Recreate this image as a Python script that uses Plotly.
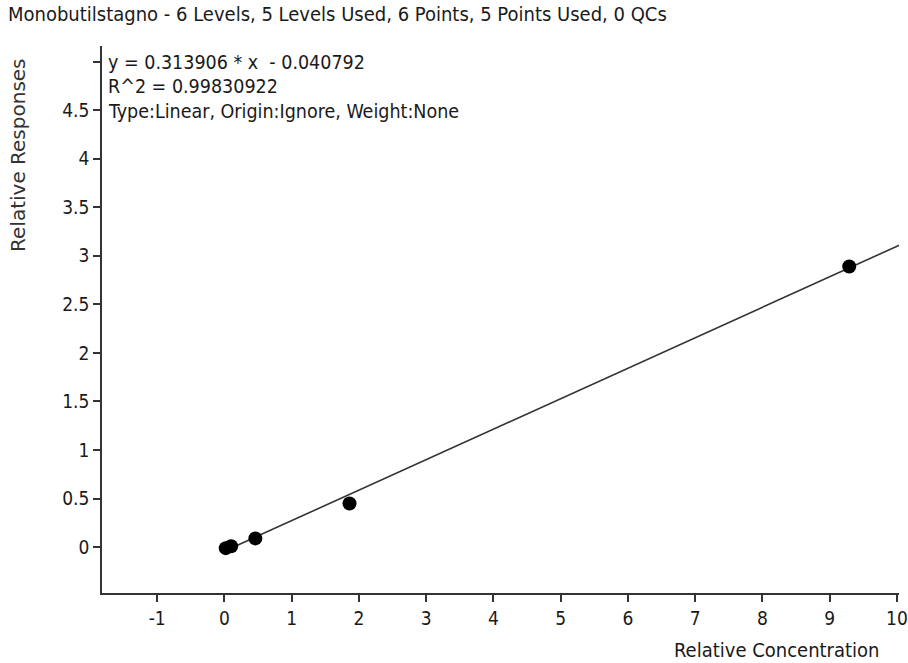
import plotly.graph_objects as go

# Calibration points (relative concentration vs relative response)
conc = [0.02, 0.10, 0.46, 1.86, 9.29]
resp = [-0.01, 0.01, 0.09, 0.45, 2.89]

# Fit parameters (from the equation shown)
slope = 0.313906
intercept = -0.040792
fit_x = [0.02, 10.2]

title_text = "Monobutilstagno - 6 Levels, 5 Levels Used, 6 Points, 5 Points Used, 0 QCs"
eq_lines = ["y = 0.313906 * x  - 0.040792", "R^2 = 0.99830922", "Type:Linear, Origin:Ignore, Weight:None"]

x_ticks = [-1, 0, 1, 2, 3, 4, 5, 6, 7, 8, 9, 10]
x_ticktext = ["-1", "0", "1", "2", "3", "4", "5", "6", "7", "8", "9", "10"]
y_ticks = [0, 0.5, 1, 1.5, 2, 2.5, 3, 3.5, 4, 4.5, 5]
y_ticktext = ["0", "0.5", "1", "1.5", "2", "2.5", "3", "3.5", "4", "4.5", ""]

NARROW = "Liberation Sans Narrow, Arial Narrow, DejaVu Sans Condensed, sans-serif"

fig = go.Figure()
fig.add_trace(go.Scatter(
    x=fit_x, y=[slope * v + intercept for v in fit_x], mode="lines",
    line=dict(color="#333333", width=1.6), hoverinfo="skip", showlegend=False))
fig.add_trace(go.Scatter(
    x=conc, y=resp, mode="markers",
    marker=dict(color="black", size=14), showlegend=False))

W, H = 908, 663
L, R, T, B = 102, 0, 46, 70
PW, PH = W - L - R, H - T - B

fig.update_layout(
    width=W, height=H,
    margin=dict(l=L, r=R, t=T, b=B),
    paper_bgcolor="white", plot_bgcolor="white",
    font=dict(family=NARROW, size=19, color="#1a1a1a"),
    xaxis=dict(range=[-1.82, 10.03], tickvals=x_ticks, ticktext=x_ticktext,
               showgrid=False, zeroline=False, ticklabeloverflow="allow",
               showline=True, linecolor="#333333", linewidth=1.5,
               ticks="outside", ticklen=7, tickcolor="#333333", tickwidth=1.5,
               tickfont=dict(family=NARROW, size=19)),
    yaxis=dict(range=[-0.472, 5.16], tickvals=y_ticks, ticktext=y_ticktext,
               showgrid=False, zeroline=False,
               showline=True, linecolor="#333333", linewidth=1.5,
               ticks="outside", ticklen=7, tickcolor="#333333", tickwidth=1.5,
               tickfont=dict(family=NARROW, size=19)),
)

def px_x(p):
    return (p - L) / PW

def px_y(p):
    return (H - B - p) / PH

ann = []
ann.append(dict(text=title_text, x=px_x(5), y=px_y(14), xref="paper", yref="paper",
                xanchor="left", yanchor="middle", showarrow=False,
                font=dict(family=NARROW, size=20, color="#1a1a1a")))
for i, t in enumerate(eq_lines):
    ann.append(dict(text=t, x=px_x(106), y=px_y(62 + 24.5 * i), xref="paper", yref="paper",
                    xanchor="left", yanchor="middle", showarrow=False,
                    font=dict(family=NARROW, size=19.5, color="#1a1a1a")))
ann.append(dict(text="Relative Concentration", x=px_x(678), y=px_y(650), xref="paper", yref="paper",
                xanchor="left", yanchor="middle", showarrow=False,
                font=dict(family=NARROW, size=20, color="#1a1a1a")))
ann.append(dict(text="Relative Responses", x=px_x(17), y=px_y(155), xref="paper", yref="paper",
                xanchor="center", yanchor="middle", showarrow=False, textangle=-90,
                font=dict(family="DejaVu Sans, sans-serif", size=20, color="#333333")))
fig.update_layout(annotations=ann)

fig.write_html("out.html", config={"displayModeBar": False},
               post_script="document.body.style.margin='0';document.body.style.overflow='hidden';")
